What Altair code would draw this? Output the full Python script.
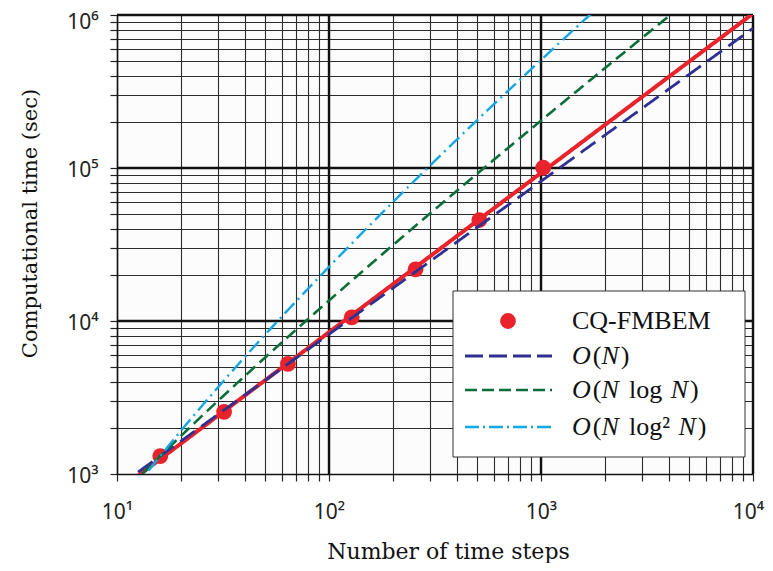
import altair as alt
import numpy as np
import pandas as pd

# ---- data ----
steps = [16, 32, 64, 128, 256, 512, 1024]
times = [1310, 2550, 5240, 10570, 21770, 45700, 100400]

x_major = [100, 1000, 10000]
y_major = [10000, 100000, 1000000]
x_ticks = [k * 10 ** d for d in (1, 2, 3) for k in range(1, 10)] + [10000]
y_ticks = [k * 10 ** d for d in (3, 4, 5) for k in range(1, 10)] + [1000000]

RED = "#e8232b"
BLUE = "#2e3192"
GREEN = "#0b6e3a"
CYAN = "#14a5e3"

SUP = {1: "¹", 2: "²", 3: "³", 4: "⁴", 5: "⁵", 6: "⁶"}


def lab_expr(powers):
    return " : ".join(f"datum.value == {10 ** p} ? '10{SUP[p]}'" for p in powers) + " : ''"


# reference curves, normalised at the first measurement
Ngrid = np.logspace(1, 4, 400)
n0, t0 = steps[0], times[0]
curves = {
    "on": t0 * Ngrid / n0,
    "onlog": t0 * Ngrid * np.log(Ngrid) / (n0 * np.log(n0)),
    "onlog2": t0 * Ngrid * np.log(Ngrid) ** 2 / (n0 * np.log(n0) ** 2),
}
b, a = np.polyfit(np.log10(steps), np.log10(times), 1)
fit = 10 ** (a + b * np.log10(Ngrid))

xscale = alt.Scale(type="log", domain=[10, 10000], nice=False)
yscale = alt.Scale(type="log", domain=[1000, 1000000], nice=False)

common_axis = dict(
    grid=True, gridColor="#2b2b2b", gridWidth=1.1,
    tickColor="#222", tickSize=7, tickWidth=1.2,
    domainColor="#111", domainWidth=1.6,
    labelFont="Noto Sans", labelFontSize=21, labelColor="#222",
    labelOverlap=False, labelFlush=False,
    titleFont="DejaVu Serif", titleFontSize=22, titleFontWeight="normal",
    titleColor="#111", titleAlign="center",
)
xaxis = alt.Axis(values=x_ticks, labelExpr=lab_expr([1, 2, 3, 4]), labelPadding=20,
                 labelOffset={"condition": {"test": "datum.value == 10000", "value": -5}, "value": 0},
                 title="Number of time steps", titleX=331, titleY=84,
                 titleBaseline="alphabetic", **common_axis)
yaxis = alt.Axis(values=y_ticks, labelExpr=lab_expr([3, 4, 5, 6]), labelPadding=12,
                 labelOffset={"condition": {"test": "datum.value == 1000000", "value": 7}, "value": 2},
                 title="Computational time (sec)", titleX=-87, titleY=208,
                 titleAngle=270, titleBaseline="middle", titleFontSize=21, **{k: v for k, v in common_axis.items() if k != "titleFontSize"})

X = lambda f: alt.X(f, type="quantitative", scale=xscale, axis=xaxis)
Y = lambda f: alt.Y(f, type="quantitative", scale=yscale, axis=yaxis)

xm = alt.Chart(pd.DataFrame({"N": x_major})).mark_rule(color="#111", strokeWidth=2.4).encode(x=X("N"))
ym = alt.Chart(pd.DataFrame({"T": y_major})).mark_rule(color="#111", strokeWidth=2.4).encode(y=Y("T"))

pts = alt.Chart(pd.DataFrame({"N": steps, "T": times})).mark_circle(
    size=250, color=RED, opacity=1).encode(x=X("N"), y=Y("T"))

fit_line = alt.Chart(pd.DataFrame({"N": Ngrid, "T": fit})).mark_line(
    color=RED, strokeWidth=4, clip=True).encode(x=X("N"), y=Y("T"))


def curve(key, color, dash, w):
    return alt.Chart(pd.DataFrame({"N": Ngrid, "T": curves[key]})).mark_line(
        color=color, strokeWidth=w, strokeDash=dash, clip=True).encode(x=X("N"), y=Y("T"))


c1 = curve("on", BLUE, [18, 8], 2.8)
c2 = curve("onlog", GREEN, [12, 6], 2.6)
c3 = curve("onlog2", CYAN, [14, 5, 2, 5], 2.4)

# ---- legend (drawn by hand, pixel layout inside the plot area) ----
box = alt.Chart(pd.DataFrame({"a": [0]})).mark_rect(
    fill="white", stroke="#333", strokeWidth=1).encode(
    x=alt.value(336), x2=alt.value(628), y=alt.value(276), y2=alt.value(442))
leg_pt = alt.Chart(pd.DataFrame({"a": [0]})).mark_circle(
    size=250, color=RED, opacity=1).encode(x=alt.value(391), y=alt.value(306))


def leg_line(yv, color, dash, w):
    return alt.Chart(pd.DataFrame({"a": [0]})).mark_rule(
        color=color, strokeWidth=w, strokeDash=dash).encode(
        x=alt.value(348), x2=alt.value(435), y=alt.value(yv))


leg_lines = [leg_line(341, BLUE, [18, 6], 2.8), leg_line(375, GREEN, [12, 5], 2.6),
             leg_line(412, CYAN, [14, 4, 2, 4], 2.4)]

FS = 26
WID = {"C": .667, "Q": .722, "-": .333, "F": .556, "M": .889, "B": .667, "E": .611,
       "(": .333, ")": .333, "l": .278, "o": .5, "g": .5, "²": .3,
       "O_i": .722, "N_i": .667}
GAP = 0.32  # math space (em)
rows = [
    (306, [("CQ-FMBEM", False, 0)]),
    (341, [("O", True, 0), ("(", False, 0), ("N", True, 0), (")", False, 0)]),
    (375, [("O", True, 0), ("(", False, 0), ("N", True, 0), ("log", False, GAP),
           ("N", True, GAP), (")", False, 0)]),
    (412, [("O", True, 0), ("(", False, 0), ("N", True, 0), ("log²", False, GAP),
           ("N", True, GAP), (")", False, 0)]),
]
texts = []
for yv, pieces in rows:
    xv = 455
    for txt, ital, gap in pieces:
        xv += gap * FS
        texts.append(alt.Chart(pd.DataFrame({"t": [txt]})).mark_text(
            align="left", baseline="middle", font="Liberation Serif", fontSize=FS,
            fontStyle="italic" if ital else "normal", color="#111").encode(
            x=alt.value(xv), y=alt.value(yv), text="t:N"))
        w = sum(WID[c + "_i"] if ital else WID[c] for c in txt)
        xv += w * FS + (2 if ital else 0)

chart = alt.layer(xm, ym, pts, fit_line, c1, c2, c3, box, leg_pt, *leg_lines, *texts).properties(
    width=636, height=459,
    autosize=alt.AutoSizeParams(type="none"),
    padding={"left": 109, "top": 7, "right": 12, "bottom": 89},
).configure_view(strokeWidth=0, fill="#fcfcfc")

chart.save("out.html", embed_options={"renderer": "svg", "actions": False})
